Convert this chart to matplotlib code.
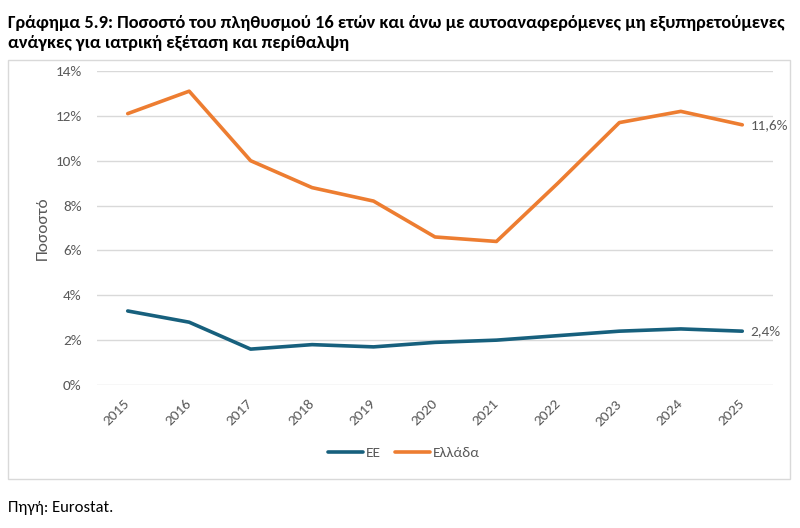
import matplotlib
matplotlib.use("Agg")
import matplotlib.pyplot as plt
from matplotlib.patches import Rectangle

years = ["2015", "2016", "2017", "2018", "2019", "2020",
         "2021", "2022", "2023", "2024", "2025"]
eu = [3.3, 2.8, 1.6, 1.8, 1.7, 1.9, 2.0, 2.2, 2.4, 2.5, 2.4]
greece = [12.1, 13.1, 10.0, 8.8, 8.2, 6.6, 6.4, 9.0, 11.7, 12.2, 11.6]
yticks = [0, 2, 4, 6, 8, 10, 12, 14]

BLUE = "#17607D"
ORANGE = "#ED7D31"
GREY = "#595959"

plt.rcParams["font.family"] = ["Carlito", "DejaVu Sans"]

fig = plt.figure(figsize=(8, 5.28), dpi=100)

# chart frame
fig.patches.append(Rectangle((8 / 800, 1 - 479 / 528), 782 / 800, 419 / 528,
                             transform=fig.transFigure, fill=False,
                             edgecolor="#D9D9D9", lw=1.0))

fig.text(8 / 800, 1 - 33 / 528,
         "Γράφημα 5.9: Ποσοστό του πληθυσμού 16 ετών και άνω με αυτοαναφερόμενες μη εξυπηρετούμενες\n"
         "ανάγκες για ιατρική εξέταση και περίθαλψη",
         fontsize=13.2, fontweight="bold", va="center", ha="left",
         linespacing=1.3, color="black")
fig.text(8 / 800, 1 - 508 / 528, "Πηγή: Eurostat.", fontsize=12,
         va="center", ha="left", color="black")

ax = fig.add_axes([97 / 800, 1 - 385 / 528, 676 / 800, 314 / 528])
x = list(range(len(years)))
ax.plot(x, eu, color=BLUE, lw=2.6, label="ΕΕ", solid_capstyle="round")
ax.plot(x, greece, color=ORANGE, lw=2.6, label="Ελλάδα", solid_capstyle="round")

ax.set_xlim(-0.5, len(years) - 0.5)
ax.set_ylim(0, 14)
ax.set_yticks(yticks)
ax.set_yticklabels([f"{v}%" for v in yticks], fontsize=11, color=GREY)
ax.set_xticks(x)
ax.set_xticklabels(years, rotation=45, fontsize=11, color=GREY,
                   ha="right", va="center", rotation_mode="anchor")
ax.tick_params(axis="y", length=0, pad=11)
ax.tick_params(axis="x", length=0, pad=12)
ax.grid(axis="y", color="#D9D9D9", lw=1)
ax.set_axisbelow(True)
for s in ax.spines.values():
    s.set_visible(False)

ax.set_ylabel("Ποσοστό", fontsize=12.5, color=GREY, labelpad=4)

ax.annotate(f"{greece[-1]:.1f}%".replace(".", ","), (x[-1], greece[-1]),
            xytext=(6, 0), textcoords="offset points", va="center",
            fontsize=11, color=GREY)
ax.annotate(f"{eu[-1]:.1f}%".replace(".", ","), (x[-1], eu[-1]),
            xytext=(6, 0), textcoords="offset points", va="center",
            fontsize=11, color=GREY)

fig.legend(loc="center", bbox_to_anchor=(404 / 800, 1 - 453 / 528), ncol=2,
           frameon=False, fontsize=11, handlelength=2.3, columnspacing=0.9,
           handletextpad=0.2, labelcolor=GREY)

fig.savefig("out.png", dpi=100)
